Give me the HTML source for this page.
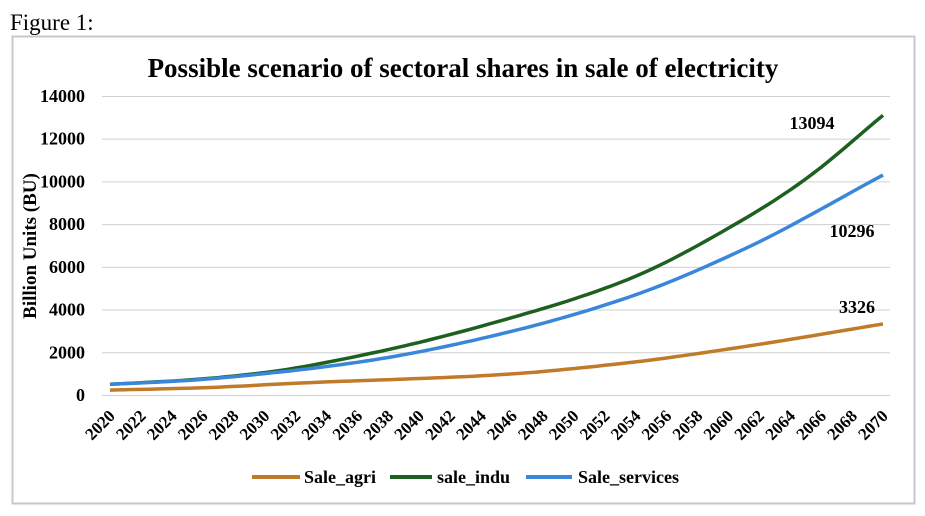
<!DOCTYPE html><html><head><style>body{margin:0;background:#fff;}svg text{font-family:"Liberation Serif",serif;}</style></head><body>
<svg width="925" height="511" xmlns="http://www.w3.org/2000/svg" id="s">
<rect x="0" y="0" width="925" height="511" fill="#fff"/>
<text x="10" y="30" font-size="23">Figure 1:</text>
<rect x="12.5" y="36.5" width="902" height="467" fill="none" stroke="#c8c8c8" stroke-width="2"/>
<text x="463" y="77" font-size="27" font-weight="bold" text-anchor="middle">Possible scenario of sectoral shares in sale of electricity</text>
<g id="grid" stroke="#d0d0d0" stroke-width="1"></g>
<g id="yl" font-size="18" font-weight="bold" text-anchor="end"></g>
<g id="xl" font-size="17" font-weight="bold" text-anchor="end"></g>
<text transform="translate(36,246) rotate(-90)" font-size="19" font-weight="bold" text-anchor="middle">Billion Units (BU)</text>
<g id="lines" fill="none" stroke-width="3.5" stroke-linejoin="round"></g>
<text x="812" y="129" font-size="18" font-weight="bold" text-anchor="middle">13094</text>
<text x="852" y="237" font-size="18" font-weight="bold" text-anchor="middle">10296</text>
<text x="857" y="313" font-size="18" font-weight="bold" text-anchor="middle">3326</text>
<g font-size="18" font-weight="bold">
<line x1="252" y1="477" x2="300" y2="477" stroke="#c07a2a" stroke-width="4"/><text x="304" y="483">Sale_agri</text>
<line x1="390" y1="477" x2="432" y2="477" stroke="#1e6020" stroke-width="4"/><text x="437" y="483">sale_indu</text>
<line x1="526" y1="477" x2="572" y2="477" stroke="#3a86d8" stroke-width="4"/><text x="578" y="483">Sale_services</text>
</g>
</svg>
<script>
var NS="http://www.w3.org/2000/svg";
function el(t,a,p,txt){var e=document.createElementNS(NS,t);for(var k in a)e.setAttribute(k,a[k]);if(txt!==undefined)e.textContent=txt;document.getElementById(p).appendChild(e);}
function Y(v){return 395-v*0.02136;}
function X(yr){return 110+(yr-2020)*(773/50);}
for(var v=0;v<=14000;v+=2000){el('line',{x1:102,x2:890,y1:Y(v)+0.5,y2:Y(v)+0.5},'grid');el('text',{x:85,y:Y(v)+6},'yl',v);}
for(var yr=2020;yr<=2070;yr+=2){var x=X(yr)+6,y=405;el('text',{x:x,y:y+12,transform:'rotate(-45 '+x+' '+(y+12)+')'},'xl',yr);}
function pchip(xs,ys){var n=xs.length,h=[],d=[],m=[];for(var i=0;i<n-1;i++){h[i]=xs[i+1]-xs[i];d[i]=(ys[i+1]-ys[i])/h[i];}
m[0]=d[0];m[n-1]=d[n-2];for(var i=1;i<n-1;i++){if(d[i-1]*d[i]<=0)m[i]=0;else{var w1=2*h[i]+h[i-1],w2=h[i]+2*h[i-1];m[i]=(w1+w2)/(w1/d[i-1]+w2/d[i]);}}
return function(x){var i=0;while(i<n-2&&x>xs[i+1])i++;var t=(x-xs[i])/h[i],t2=t*t,t3=t2*t;
return (2*t3-3*t2+1)*ys[i]+(t3-2*t2+t)*h[i]*m[i]+(-2*t3+3*t2)*ys[i+1]+(t3-t2)*h[i]*m[i+1];};}
function path(xs,ys){var f=pchip(xs,ys),d='';for(var t=2020;t<=2070;t+=0.5){d+=(t==2020?'M':'L')+X(t).toFixed(1)+' '+Y(f(t)).toFixed(1);}return d;}
el('path',{d:path([2020,2026,2032.3,2045,2053.4,2060.9,2070],[230,340,560,940,1500,2250,3326]),stroke:'#c07a2a'},'lines');
el('path',{d:path([2020,2025,2030,2037,2045,2053.4,2060.9,2064.9,2070],[500,700,1050,1970,3420,5380,8190,10060,13094]),stroke:'#1e6020'},'lines');
el('path',{d:path([2020,2025,2030,2037,2045,2053.4,2060.9,2070],[500,680,1000,1640,2810,4540,6790,10296]),stroke:'#3a86d8'},'lines');
</script>
</body></html>
